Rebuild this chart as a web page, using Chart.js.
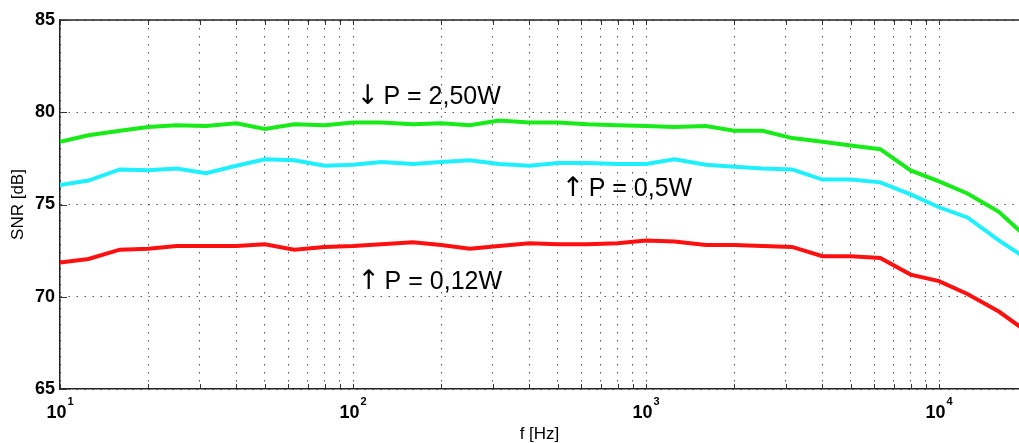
<!DOCTYPE html>
<html>
<head>
    <title>SNR vs f</title>
    <meta charset="utf-8" />
    <script src="https://cdn.jsdelivr.net/npm/chart.js@4"></script>
    <style>
        html, body { margin: 0; padding: 0; background: #fff; }
        .chart-container { position: relative; width: 1019px; height: 443px; }
    </style>
</head>
<body>
    <div class="chart-container">
        <canvas id="snrChart"></canvas>
    </div>

    <script>
        // 1/3 octave frequencies [Hz]
        const freqs = [10, 12.5, 16, 20, 25, 31.5, 40, 50, 63, 80, 100, 125, 160, 200, 250, 315, 400, 500,
                       630, 800, 1000, 1250, 1600, 2000, 2500, 3150, 4000, 5000, 6300, 8000, 10000, 12500, 16000, 20000];

        // SNR [dB] for each power level
        const snrP250 = [78.4, 78.75, 79.0, 79.2, 79.3, 79.25, 79.4, 79.1, 79.35, 79.3, 79.45, 79.45, 79.35, 79.4, 79.3, 79.55, 79.45, 79.45,
                         79.35, 79.3, 79.25, 79.2, 79.25, 79.0, 79.0, 78.6, 78.4, 78.2, 78.0, 76.85, 76.25, 75.6, 74.6, 73.2];
        const snrP05 = [76.05, 76.3, 76.9, 76.85, 76.95, 76.7, 77.1, 77.45, 77.4, 77.1, 77.15, 77.3, 77.2, 77.3, 77.4, 77.2, 77.1, 77.25,
                        77.25, 77.2, 77.2, 77.45, 77.15, 77.05, 76.95, 76.9, 76.35, 76.35, 76.2, 75.55, 74.85, 74.3, 73.05, 72.05];
        const snrP012 = [71.85, 72.05, 72.55, 72.6, 72.75, 72.75, 72.75, 72.85, 72.55, 72.7, 72.75, 72.85, 72.95, 72.8, 72.6, 72.75, 72.9, 72.85,
                         72.85, 72.9, 73.05, 73.0, 72.8, 72.8, 72.75, 72.7, 72.2, 72.2, 72.1, 71.2, 70.85, 70.15, 69.2, 68.1];

        // axis ticks / labels
        const gridFreqs = [10, 20, 30, 40, 50, 60, 70, 80, 90,
                           100, 200, 300, 400, 500, 600, 700, 800, 900,
                           1000, 2000, 3000, 4000, 5000, 6000, 7000, 8000, 9000, 10000];
        const decades = [10, 100, 1000, 10000];
        const decadeExps = ['1', '2', '3', '4'];
        const yTicks = [65, 70, 75, 80, 85];

        // text labels on the plot (anchored in data units)
        const notes = [
            { arrow: '\u2193', text: 'P = 2,50W', f: 106, db: 80.44 },
            { arrow: '\u2191', text: 'P = 0,5W', f: 532, db: 75.45 },
            { arrow: '\u2191', text: 'P = 0,12W', f: 107, db: 70.43 }
        ];

        const toPoints = vals => freqs.map((f, i) => ({ x: f, y: vals[i] }));

        // frame, inward ticks, decade labels and notes
        const extras = {
            id: 'extras',
            afterDraw(chart) {
                const { ctx, chartArea: a, scales: { x, y } } = chart;
                ctx.save();
                ctx.strokeStyle = '#222';
                ctx.lineWidth = 1.5;
                ctx.beginPath();
                ctx.moveTo(a.left, a.top);
                ctx.lineTo(a.right, a.top);
                ctx.stroke();

                ctx.lineWidth = 1;
                ctx.strokeStyle = '#333';
                ctx.beginPath();
                gridFreqs.forEach(f => {
                    const px = Math.round(x.getPixelForValue(f)) + 0.5;
                    ctx.moveTo(px, a.bottom); ctx.lineTo(px, a.bottom - 5);
                    ctx.moveTo(px, a.top); ctx.lineTo(px, a.top + 5);
                });
                yTicks.forEach(v => {
                    const py = Math.round(y.getPixelForValue(v)) + 0.5;
                    ctx.moveTo(a.left, py); ctx.lineTo(a.left + 7, py);
                });
                ctx.stroke();

                // 10^n labels
                ctx.fillStyle = '#000';
                ctx.textBaseline = 'alphabetic';
                ctx.textAlign = 'left';
                decades.forEach((f, i) => {
                    const px = x.getPixelForValue(f);
                    ctx.font = 'bold 18px "Liberation Sans", Arial, sans-serif';
                    const wb = ctx.measureText('10').width;
                    ctx.font = 'bold 11px "Liberation Sans", Arial, sans-serif';
                    const we = ctx.measureText(decadeExps[i]).width;
                    const x0 = px - (wb + we + 1) / 2;
                    ctx.font = 'bold 18px "Liberation Sans", Arial, sans-serif';
                    ctx.fillText('10', x0, a.bottom + 29);
                    ctx.font = 'bold 11px "Liberation Sans", Arial, sans-serif';
                    ctx.fillText(decadeExps[i], x0 + wb + 1, a.bottom + 16);
                });

                notes.forEach(n => {
                    const px = x.getPixelForValue(n.f);
                    const py = y.getPixelForValue(n.db);
                    ctx.font = '27px "DejaVu Sans", sans-serif';
                    ctx.fillText(n.arrow, px - 4, py);
                    ctx.font = '25px "Liberation Sans", Arial, sans-serif';
                    ctx.fillText(n.text, px + 23, py);
                });
                ctx.restore();
            }
        };

        const lineDs = (label, vals, color) => ({
            label: label,
            data: toPoints(vals),
            borderColor: color,
            backgroundColor: color,
            borderWidth: 4,
            pointRadius: 0,
            tension: 0,
            fill: false
        });

        const ctx = document.getElementById('snrChart').getContext('2d');
        const snrChart = new Chart(ctx, {
            type: 'line',
            data: {
                datasets: [
                    lineDs('P = 2,50W', snrP250, '#18ec18'),
                    lineDs('P = 0,5W', snrP05, '#1ff0ff'),
                    lineDs('P = 0,12W', snrP012, '#ff1010')
                ]
            },
            options: {
                responsive: true,
                maintainAspectRatio: false,
                animation: false,
                layout: { padding: { top: 20, right: 0, left: 0, bottom: 0 } },
                plugins: {
                    legend: { display: false },
                    tooltip: { enabled: false }
                },
                scales: {
                    x: {
                        type: 'logarithmic',
                        min: 10,
                        max: 18750,
                        afterBuildTicks: axis => { axis.ticks = gridFreqs.map(v => ({ value: v })); },
                        afterFit: axis => { axis.height = 54; },
                        ticks: { display: false },
                        grid: { color: '#555', lineWidth: 1, drawTicks: false },
                        border: { color: '#222', width: 1.5, dash: [1.5, 6.5] },
                        title: {
                            display: true,
                            text: 'f [Hz]',
                            color: '#000',
                            font: { family: '"Liberation Sans", Arial, sans-serif', size: 17, lineHeight: 1 },
                            padding: { top: 0, bottom: 0 }
                        }
                    },
                    y: {
                        min: 65,
                        max: 85,
                        afterBuildTicks: axis => { axis.ticks = yTicks.map(v => ({ value: v })); },
                        afterFit: axis => { axis.width = 60; },
                        ticks: {
                            color: '#000',
                            padding: 5,
                            font: { family: '"Liberation Sans", Arial, sans-serif', size: 18, weight: 'bold' }
                        },
                        grid: { color: '#555', lineWidth: 1, drawTicks: false },
                        border: { color: '#222', width: 1.5, dash: [1.5, 6.5] },
                        title: {
                            display: true,
                            text: 'SNR [dB]',
                            color: '#000',
                            font: { family: '"Liberation Sans", Arial, sans-serif', size: 17 },
                            padding: { top: 8, bottom: 0 }
                        }
                    }
                }
            },
            plugins: [extras]
        });
    </script>
</body>
</html>
